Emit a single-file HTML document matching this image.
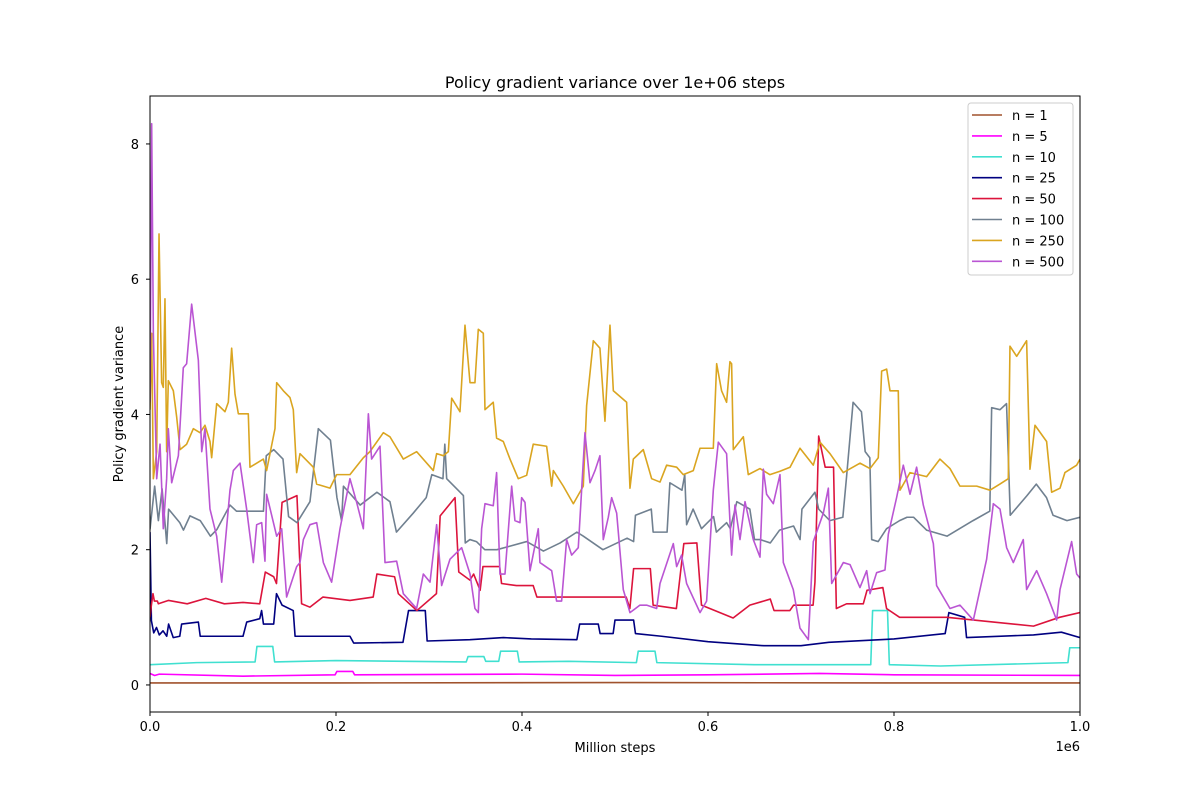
<!DOCTYPE html>
<html><head><meta charset="utf-8">
<style>
body{margin:0;background:#fff;}
svg{display:block;font-family:"DejaVu Sans","Liberation Sans",sans-serif;}
</style></head>
<body>
<svg id="chart" width="1200" height="800" viewBox="0 0 1200 800">
<rect width="1200" height="800" fill="#fff"/>
<defs><clipPath id="plotclip"><rect x="150" y="96" width="930" height="616"/></clipPath></defs>
<text x="615" y="88" text-anchor="middle" font-size="16">Policy gradient variance over 1e+06 steps</text>
<g id="series" clip-path="url(#plotclip)"></g>
<rect x="150" y="96" width="930" height="616" fill="none" stroke="#000" stroke-width="1"/>
<g id="xticks"></g>
<g id="yticks"></g>
<text x="615" y="752" text-anchor="middle" font-size="13">Million steps</text>
<text x="1080" y="751" text-anchor="end" font-size="13">1e6</text>
<text transform="translate(123,404) rotate(-90)" text-anchor="middle" font-size="13">Policy gradient variance</text>
<g id="legend"></g>
</svg>
<script>
// x values are in thousands of steps
const xTicks = [0, 0.2, 0.4, 0.6, 0.8, 1.0];
const xTickLabels = ["0.0", "0.2", "0.4", "0.6", "0.8", "1.0"];
const yTicks = [0, 2, 4, 6, 8];
const seriesNames = ["n = 1", "n = 5", "n = 10", "n = 25", "n = 50", "n = 100", "n = 250", "n = 500"];
const seriesColors = ["#a0522d", "#ff00ff", "#40e0d0", "#000080", "#dc143c", "#708090", "#daa520", "#ba55d3"];

const n1 = [[0,0.03],[200,0.03],[500,0.035],[800,0.03],[1000,0.03]];
const n5 = [[0,0.17],[5,0.14],[10,0.16],[100,0.13],[199,0.15],[201,0.2],[218,0.2],[220,0.15],[400,0.16],[500,0.14],[600,0.15],[720,0.17],[800,0.15],[1000,0.14]];
const n10 = [[0,0.3],[50,0.33],[113,0.34],[115,0.57],[132,0.57],[134,0.34],[200,0.36],[340,0.34],[342,0.42],[359,0.42],[361,0.35],[375,0.35],[377,0.5],[395,0.5],[397,0.34],[450,0.35],[523,0.33],[525,0.5],[543,0.5],[545,0.33],[650,0.3],[775,0.3],[777,1.1],[793,1.1],[795,0.3],[850,0.28],[987,0.33],[989,0.55],[1000,0.55]];
const n25 = [[0,2.26],[1.5,0.95],[4,0.77],[7,0.85],[10,0.74],[14,0.8],[18,0.72],[20,0.9],[25,0.7],[32,0.72],[34,0.9],[52,0.93],[54,0.72],[100,0.72],[104,0.93],[118,0.98],[120,1.1],[122,0.9],[133,0.9],[136,1.35],[142,1.18],[154,1.1],[156,0.72],[215,0.72],[219,0.62],[272,0.63],[278,1.1],[296,1.1],[298,0.65],[344,0.67],[380,0.7],[410,0.68],[459,0.67],[462,0.9],[482,0.9],[484,0.76],[498,0.76],[500,0.96],[520,0.96],[522,0.76],[550,0.72],[600,0.64],[660,0.58],[700,0.58],[730,0.63],[800,0.68],[855,0.76],[859,1.07],[876,1.0],[878,0.7],[950,0.74],[980,0.78],[1000,0.7]];
const n50 = [[0,1.0],[1.5,1.18],[3.2,1.35],[4.7,1.24],[7.9,1.24],[9,1.2],[20,1.25],[40,1.2],[60,1.28],[80,1.2],[100,1.22],[118,1.2],[124,1.67],[133,1.6],[136,1.5],[142,2.7],[158,2.8],[163,1.2],[172,1.15],[186,1.3],[215,1.25],[240,1.3],[244,1.64],[263,1.6],[267,1.35],[287,1.1],[308,1.35],[312,2.5],[328,2.77],[332,1.67],[344,1.55],[348,1.64],[355,1.4],[358,1.75],[376,1.75],[378,1.5],[394,1.47],[412,1.47],[416,1.3],[480,1.3],[512,1.3],[516,1.13],[520,1.72],[538,1.72],[541,1.18],[566,1.13],[574,2.09],[588,2.1],[593,1.18],[627,0.99],[645,1.18],[667,1.27],[671,1.1],[688,1.1],[692,1.18],[713,1.18],[715,1.52],[719,3.68],[726,3.22],[735,3.22],[738,1.13],[749,1.2],[767,1.2],[771,1.4],[788,1.44],[792,1.13],[806,1.0],[842,1.0],[857,1.0],[907,0.93],[950,0.87],[978,1.0],[1000,1.07]];
const n100 = [[0,2.3],[5,2.94],[9,2.43],[13,2.9],[18,2.09],[20,2.6],[32,2.4],[36,2.29],[43,2.5],[54,2.43],[65,2.2],[72,2.3],[86,2.66],[93,2.57],[122,2.57],[125,3.39],[133,3.48],[143,3.34],[149,2.49],[158,2.4],[172,2.71],[181,3.79],[194,3.62],[201,2.77],[206,2.43],[208,2.94],[226,2.66],[244,2.85],[258,2.71],[265,2.26],[283,2.54],[297,2.77],[303,3.11],[315,3.05],[317,3.56],[319,3.05],[337,2.8],[339,2.1],[344,2.15],[351,2.12],[360,2.0],[373,2.0],[405,2.12],[423,1.98],[441,2.1],[459,2.26],[466,2.2],[487,2.0],[513,2.17],[520,2.12],[522,2.51],[539,2.6],[541,2.26],[556,2.26],[559,2.99],[572,2.88],[575,3.11],[577,2.37],[584,2.6],[593,2.31],[606,2.49],[609,2.26],[620,2.4],[624,2.31],[631,2.71],[645,2.6],[650,2.15],[656,2.15],[667,2.1],[677,2.29],[692,2.35],[699,2.15],[701,2.6],[715,2.85],[719,2.6],[731,2.43],[745,2.48],[749,3.08],[756,4.18],[765,4.04],[769,3.45],[774,3.36],[776,2.15],[783,2.12],[792,2.31],[806,2.43],[814,2.48],[821,2.48],[835,2.29],[857,2.2],[885,2.43],[903,2.57],[905,4.1],[914,4.07],[921,4.16],[925,2.51],[943,2.8],[953,2.97],[964,2.77],[971,2.51],[986,2.43],[1000,2.48]];
const n250 = [[0,4.07],[1.8,5.2],[3.6,3.05],[7.2,3.45],[9.7,6.67],[12.5,4.47],[14.3,4.4],[16.1,5.71],[17.9,3.45],[19.7,4.5],[25.1,4.35],[28.7,3.96],[32.3,3.48],[39.4,3.56],[46.6,3.79],[53.8,3.73],[59.1,3.84],[64.5,3.6],[66.3,3.36],[71.7,4.16],[80.6,4.04],[84.2,4.18],[87.8,4.98],[91.4,4.3],[95,4.01],[105.7,4.01],[107.5,3.22],[121.9,3.34],[125.4,3.17],[134.4,3.79],[136.2,4.47],[143.4,4.35],[150.5,4.25],[154.1,4.07],[157.7,3.14],[161.3,3.42],[175.6,3.22],[179.2,2.97],[186.4,2.94],[193.5,2.91],[200.7,3.11],[215,3.11],[229.4,3.36],[236.5,3.45],[250.9,3.73],[258,3.67],[272.4,3.34],[286.7,3.45],[304.6,3.17],[308.2,3.42],[315.4,3.39],[320.8,3.45],[324.4,4.24],[333.3,4.04],[338.7,5.32],[344.1,4.47],[349.4,4.47],[353,5.26],[358.4,5.2],[360.2,4.07],[369.1,4.18],[372.7,3.65],[379.9,3.6],[387.1,3.34],[396,3.05],[405,3.1],[412.1,3.56],[426.5,3.53],[431.9,2.94],[433.7,3.17],[444.4,2.94],[455.2,2.68],[465.9,2.94],[469.5,4.13],[476.7,5.09],[483.8,4.98],[489.2,3.9],[494.6,5.32],[498.2,4.35],[512.5,4.18],[516.1,2.91],[519.7,3.34],[530.4,3.48],[539.4,3.05],[548.4,3.0],[555.5,3.25],[566.3,3.22],[573.4,3.11],[584.2,3.17],[591.4,3.5],[605.7,3.5],[609.3,4.75],[614.6,4.35],[620,4.18],[623.6,4.78],[625.4,4.75],[627.2,3.48],[638,3.67],[643.3,3.11],[655.9,3.2],[666.6,3.11],[677.4,3.16],[688.2,3.22],[698.9,3.5],[713.2,3.25],[720.4,3.59],[731.2,3.42],[745.5,3.14],[763.4,3.28],[774.2,3.2],[783.1,3.36],[786.7,4.64],[792.1,4.67],[795.7,4.35],[804.6,4.35],[806.4,2.88],[817.2,3.14],[835.1,3.08],[849.4,3.34],[860.2,3.2],[870.9,2.94],[888.9,2.94],[903.2,2.88],[913.9,2.97],[922.9,3.05],[924.7,5.01],[931.9,4.86],[942.6,5.09],[946.2,3.19],[951.6,3.84],[964.1,3.6],[969.5,2.85],[978.5,2.91],[983.8,3.14],[996.4,3.25],[1000,3.34]];
const n500 = [[0,4.18],[1.8,8.3],[3.6,5.2],[7.2,3.05],[10.8,3.56],[14.3,2.31],[17.9,3.05],[19.7,3.79],[23.3,2.99],[30.5,3.39],[35.8,4.69],[39.4,4.75],[44.8,5.63],[52,4.8],[55.6,3.45],[59.1,3.79],[64.5,2.6],[71.7,2.2],[77.1,1.52],[86,2.88],[89.6,3.17],[96.8,3.28],[103.9,2.6],[111.1,1.81],[114.7,2.37],[120.1,2.4],[123.6,1.83],[125.4,2.82],[136.2,2.2],[141.6,2.31],[146.9,1.3],[157.7,1.75],[161.3,1.81],[164.9,2.15],[172,2.37],[179.2,2.4],[186.4,1.81],[195.3,1.52],[204.3,2.31],[215,3.05],[222.2,2.7],[229.4,2.31],[234.8,4.01],[238.3,3.34],[247.3,3.53],[252.7,1.81],[265.2,1.83],[272.4,1.35],[286.7,1.13],[293.9,1.64],[301.1,1.52],[308.2,2.37],[313.6,1.47],[322.6,1.86],[335.1,2.03],[344.1,1.64],[349.4,1.13],[353,1.07],[356.6,2.31],[360.2,2.68],[369.1,2.65],[372.7,3.14],[376.3,1.64],[381.7,1.64],[388.9,2.94],[392.4,2.43],[397.8,2.4],[399.6,2.77],[403.2,2.7],[408.6,1.69],[417.5,2.31],[419.3,1.81],[431.9,1.69],[437.2,1.24],[442.6,1.24],[448,2.15],[453.4,1.92],[460.5,2.03],[467.7,3.73],[473.1,2.99],[478.5,3.17],[483.8,3.39],[487.4,2.15],[492.8,2.48],[496.4,2.77],[501.8,2.54],[508.9,1.41],[516.1,1.07],[526.8,1.18],[534,1.18],[544.8,1.13],[548.4,1.5],[562.7,2.09],[566.3,1.75],[571.6,1.92],[577,1.5],[591.4,1.07],[598.5,1.24],[605.7,2.88],[611.1,3.59],[620,3.42],[625.4,1.92],[629,2.66],[634.4,2.15],[639.8,2.71],[648.7,2.15],[655.9,1.89],[659.5,3.19],[663,2.82],[670.2,2.68],[677.4,3.11],[681,1.81],[691.7,1.41],[698.9,0.84],[707.9,0.67],[713.2,2.12],[724,2.54],[729.4,2.91],[733,1.5],[745.5,1.81],[752.7,1.78],[763.4,1.44],[770.6,1.69],[774.2,1.35],[781.3,1.66],[790.3,1.7],[793.9,2.23],[802.8,2.77],[810,3.25],[817.2,2.82],[824.3,3.22],[831.5,2.66],[842.3,2.09],[845.8,1.47],[860.2,1.13],[870.9,1.18],[885.3,0.96],[899.6,1.86],[906.8,2.68],[914,2.6],[921.1,2.03],[928.3,1.81],[939,2.15],[942.6,1.41],[953.4,1.69],[964.1,1.35],[974.9,0.96],[978.5,1.41],[991,2.12],[996.4,1.64],[1000,1.58]];

const allSeries = [n1, n5, n10, n25, n50, n100, n250, n500];
const seriesKeys = ["n-1", "n-5", "n-10", "n-25", "n-50", "n-100", "n-250", "n-500"];

const NS = "http://www.w3.org/2000/svg";
const X0 = 150, X1 = 1080, Y0 = 712, Y1 = 96;
const yMin = -0.4, yMax = 8.709;
function xScale(kSteps){ return X0 + (kSteps/1000)*(X1-X0); }
function yScale(v){ return Y0 - (v - yMin)/(yMax - yMin)*(Y0 - Y1); }

const gS = document.getElementById("series");
allSeries.forEach((data, i) => {
  const p = document.createElementNS(NS, "path");
  p.setAttribute("d", data.map((d, j) => (j ? "L" : "M") + xScale(d[0]).toFixed(2) + "," + yScale(d[1]).toFixed(2)).join(""));
  p.setAttribute("fill", "none");
  p.setAttribute("stroke", seriesColors[i]);
  p.setAttribute("stroke-width", "1.6");
  p.setAttribute("stroke-linejoin", "round");
  
  
  gS.appendChild(p);
});

const gX = document.getElementById("xticks");
xTicks.forEach((t, i) => {
  const x = xScale(t*1000);
  const l = document.createElementNS(NS, "line");
  l.setAttribute("x1", x); l.setAttribute("x2", x);
  l.setAttribute("y1", 712); l.setAttribute("y2", 716);
  l.setAttribute("stroke", "#000");
  
  
  gX.appendChild(l);
  const tx = document.createElementNS(NS, "text");
  tx.setAttribute("x", x); tx.setAttribute("y", 731);
  tx.setAttribute("text-anchor", "middle"); tx.setAttribute("font-size", "13");
  tx.textContent = xTickLabels[i];
  
  
  gX.appendChild(tx);
});

const gY = document.getElementById("yticks");
yTicks.forEach((t) => {
  const y = yScale(t);
  const l = document.createElementNS(NS, "line");
  l.setAttribute("x1", 146); l.setAttribute("x2", 150);
  l.setAttribute("y1", y); l.setAttribute("y2", y);
  l.setAttribute("stroke", "#000");
  
  
  gY.appendChild(l);
  const tx = document.createElementNS(NS, "text");
  tx.setAttribute("x", 139); tx.setAttribute("y", y + 5);
  tx.setAttribute("text-anchor", "end"); tx.setAttribute("font-size", "13");
  tx.textContent = String(t);
  
  
  gY.appendChild(tx);
});

const gL = document.getElementById("legend");
const box = document.createElementNS(NS, "rect");
box.setAttribute("x", 968); box.setAttribute("y", 103);
box.setAttribute("width", 105); box.setAttribute("height", 172);
box.setAttribute("rx", 3);
box.setAttribute("fill", "#fff"); box.setAttribute("fill-opacity", "0.8");
box.setAttribute("stroke", "#ccc");


gL.appendChild(box);
seriesNames.forEach((name, i) => {
  const y = 115 + i*20.9;
  const l = document.createElementNS(NS, "line");
  l.setAttribute("x1", 972); l.setAttribute("x2", 1002);
  l.setAttribute("y1", y); l.setAttribute("y2", y);
  l.setAttribute("stroke", seriesColors[i]); l.setAttribute("stroke-width", "1.6");
  
  
  gL.appendChild(l);
  const tx = document.createElementNS(NS, "text");
  tx.setAttribute("x", 1012); tx.setAttribute("y", y + 5);
  tx.setAttribute("font-size", "13");
  tx.textContent = name;
  
  
  gL.appendChild(tx);
});
</script>
</body></html>
